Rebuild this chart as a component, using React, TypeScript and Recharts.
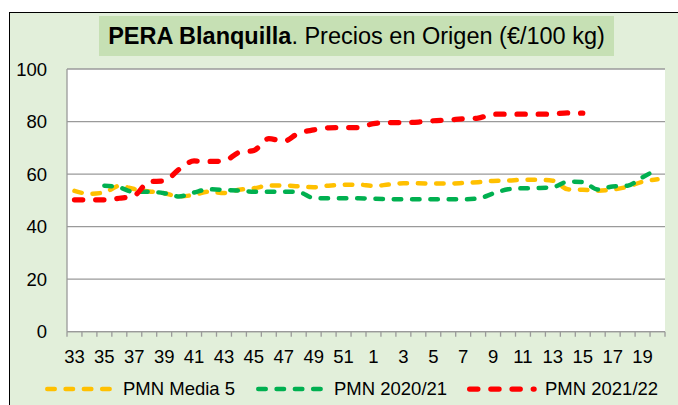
import { LineChart, Line, XAxis, YAxis, CartesianGrid, Legend } from "recharts"

// semanas de campaña (33 a 52, luego 1 a 20)
const weeks = [
	"33", "34", "35", "36", "37", "38", "39", "40", "41", "42",
	"43", "44", "45", "46", "47", "48", "49", "50", "51", "52",
	"1", "2", "3", "4", "5", "6", "7", "8", "9", "10",
	"11", "12", "13", "14", "15", "16", "17", "18", "19", "20",
]

const media5 = [
	53.6, 52.5, 53.0, 55.5, 54.3, 53.4, 52.7, 51.5, 52.1, 53.3,
	52.8, 54.0, 54.6, 55.6, 55.7, 55.3, 55.0, 55.6, 55.9, 56.0,
	55.5, 56.0, 56.5, 56.5, 56.4, 56.4, 56.6, 56.9, 57.4, 57.5,
	57.8, 57.8, 57.5, 54.2, 54.0, 53.7, 54.1, 55.2, 57.1, 58.0,
]

const pmn2021 = [
	null, null, 55.6, 54.9, 53.2, 53.3, 52.7, 51.5, 53.0, 54.2,
	54.0, 53.7, 53.3, 53.3, 53.3, 53.1, 50.9, 50.8, 50.8, 50.8,
	50.6, 50.5, 50.4, 50.4, 50.4, 50.4, 50.4, 50.7, 52.6, 54.2,
	54.6, 54.7, 55.0, 57.1, 57.0, 54.1, 55.3, 55.6, 58.8, 61.8,
]

const pmn2122 = [
	50.2, 50.2, 50.2, 50.8, 51.8, 57.1, 57.4, 61.8, 65.0, 64.8,
	65.0, 68.2, 69.0, 73.5, 72.5, 75.6, 76.8, 77.6, 77.7, 77.7,
	79.2, 79.6, 79.6, 79.8, 80.3, 80.6, 81.0, 81.3, 82.8, 82.8,
	82.8, 82.8, 82.9, 83.3, 83.2, null, null, null, null, null,
]

const yTicks = [0, 20, 40, 60, 80, 100]

const data = weeks.map((week, i) => ({
	week,
	media5: media5[i],
	pmn2021: pmn2021[i],
	pmn2122: pmn2122[i],
}))

const series = [
	{ key: "media5", name: "PMN Media 5", color: "#FFC000", width: 4.5, dash: "7.5 10.8" },
	{ key: "pmn2021", name: "PMN 2020/21", color: "#00B050", width: 4.5, dash: "7.5 10.8" },
	{ key: "pmn2122", name: "PMN 2021/22", color: "#FF0000", width: 5.25, dash: "8.25 12.95" },
]

const W = 678
const H = 405
const PLOT_LEFT = 67
const PLOT_RIGHT = 665
const BAND = (PLOT_RIGHT - PLOT_LEFT) / weeks.length
const GRID = "#9a9a9a"
const FONT = 18.5
const TICK_SIZE = 5
const TICK_MARGIN = 13

const WeekTick = (props: any) => {
	const { x, y, payload, index } = props
	const axisY = y - TICK_SIZE - TICK_MARGIN
	const half = BAND / 2
	return (
		<g>
			<line x1={x - half} x2={x - half} y1={axisY} y2={axisY + TICK_SIZE} stroke={GRID} strokeWidth={1.3} />
			{index === weeks.length - 1 && (
				<line x1={x + half} x2={x + half} y1={axisY} y2={axisY + TICK_SIZE} stroke={GRID} strokeWidth={1.3} />
			)}
			{index % 2 === 0 && (
				<text x={x} y={y} dy="0.71em" textAnchor="middle" fill="#000" fontSize={FONT}>
					{payload.value}
				</text>
			)}
		</g>
	)
}

const LegendRow = () => (
	<div style={{ display: "flex", alignItems: "center", height: 27, paddingLeft: 45 }}>
		{series.map((s) => (
			<div key={s.key} style={{ display: "flex", alignItems: "center", width: 216.5 }}>
				<svg width={72} height={12}>
					<line
						x1={s.width / 2}
						x2={s.width / 2 + 64.5}
						y1={6}
						y2={6}
						stroke={s.color}
						strokeWidth={s.width}
						strokeDasharray={s.dash}
						strokeLinecap="round"
					/>
				</svg>
				<span style={{ marginLeft: 6, fontSize: FONT, color: "#000", whiteSpace: "nowrap" }}>{s.name}</span>
			</div>
		))}
	</div>
)

const App = () => {
	return (
		<div
			style={{
				position: "absolute",
				left: 0,
				top: 0,
				width: W,
				height: H,
				overflow: "hidden",
				background: "#fff",
				fontFamily: '"Liberation Sans", Arial, sans-serif',
			}}
		>
			<div
				style={{
					position: "absolute",
					left: 9,
					top: 12,
					width: W,
					height: H,
					background: "#E2EFDA",
					borderLeft: "1.5px solid #000",
					borderTop: "1.5px solid #000",
				}}
			/>
			<div style={{ position: "absolute", left: 0, top: 0 }}>
				<LineChart
					width={W}
					height={H}
					data={data}
					margin={{ top: 69, right: W - PLOT_RIGHT, left: 0, bottom: 3 }}
				>
					<CartesianGrid vertical={false} stroke={GRID} strokeWidth={1.3} fill="#fff" fillOpacity={1} />
					<XAxis
						dataKey="week"
						interval={0}
						height={43.3}
						padding={{ left: BAND / 2, right: BAND / 2 }}
						axisLine={{ stroke: GRID, strokeWidth: 1.3 }}
						tickLine={false}
						tickSize={TICK_SIZE}
						tickMargin={TICK_MARGIN}
						tick={<WeekTick />}
					/>
					<YAxis
						width={PLOT_LEFT}
						domain={[0, 100]}
						ticks={yTicks}
						interval={0}
						axisLine={{ stroke: GRID, strokeWidth: 1.3 }}
						tickLine={false}
						tickSize={0}
						tickMargin={20}
						tick={{ fill: "#000", fontSize: FONT }}
					/>
					<YAxis
						yAxisId="border"
						orientation="right"
						width={0}
						domain={[0, 100]}
						tick={false}
						tickLine={false}
						axisLine={{ stroke: GRID, strokeWidth: 1.3 }}
					/>
					<Legend
						verticalAlign="bottom"
						wrapperStyle={{ left: 0, width: W }}
						content={<LegendRow />}
					/>
					{series.map((s) => (
						<Line
							key={s.key}
							type="monotone"
							dataKey={s.key}
							name={s.name}
							stroke={s.color}
							strokeWidth={s.width}
							strokeDasharray={s.dash}
							strokeLinecap="round"
							dot={false}
							activeDot={false}
							isAnimationActive={false}
						/>
					))}
				</LineChart>
			</div>
			<div
				style={{
					position: "absolute",
					left: 99,
					top: 16,
					width: 515,
					height: 40,
					background: "#C6E0B4",
					display: "flex",
					alignItems: "center",
					justifyContent: "center",
					fontSize: 23.5,
					color: "#000",
					whiteSpace: "nowrap",
				}}
			>
				<span>
					<b>PERA Blanquilla</b>. Precios en Origen (€/100 kg)
				</span>
			</div>
		</div>
	)
}

export default App
